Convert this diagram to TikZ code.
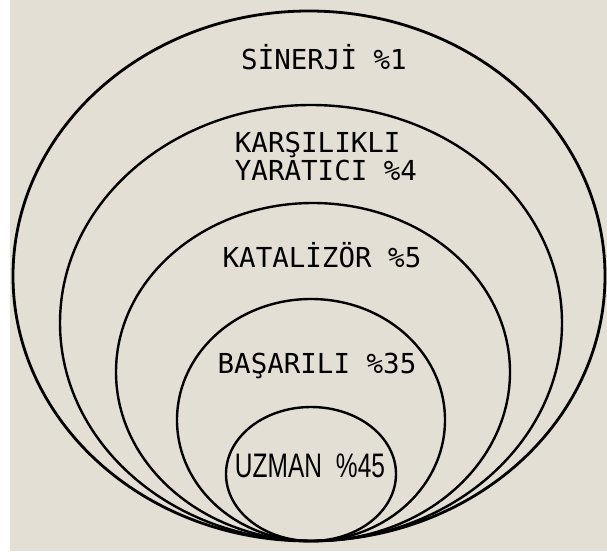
\documentclass[tikz,border=0pt]{standalone}
\usepackage{fontspec}
\newfontfamily\monofont{DejaVu Sans Mono}
\newfontfamily\narrowfont[FakeStretch=0.72]{Liberation Sans}
\definecolor{bgbeige}{RGB}{228,223,213}
\begin{document}
\begin{tikzpicture}[x=1pt,y=-1pt,
  ring/.style={draw=black,line width=2.4pt},
  outerring/.style={draw=black,line width=2.8pt},
  label/.style={font=\monofont\fontsize{27.5}{27}\selectfont,inner sep=0pt,text=black},
  ulabel/.style={font=\narrowfont\fontsize{34}{34}\selectfont,inner sep=0pt,text=black}]
\useasboundingbox (0,0) rectangle (607,554);
\fill[white] (0,0) rectangle (607,554);
\fill[bgbeige] (10,0) rectangle (607,551);
\begin{scope}
\clip (10,0) rectangle (607,551);
\draw[outerring] (309,276) ellipse [x radius=296, y radius=265];
\draw[ring] (311,323) ellipse [x radius=251, y radius=218];
\draw[ring] (313,372) ellipse [x radius=197, y radius=169];
\draw[ring] (311,420) ellipse [x radius=134, y radius=121];
\draw[ring] (311,474) ellipse [x radius=85, y radius=67];
\end{scope}
\node[label] (sin) at (324,57) {SİNERJİ\ \%1};
\node[label,align=left] (kar) at (326,156) {KARŞILIKLI\\[1pt]YARATICI\ \%4};
\node[label] (kat) at (322,255) {KATALİZÖR\ \%5};
\node[label] (bas) at (317,366) {BAŞARILI\ \%35};
\node[ulabel] (uz) at (310,466) {UZMAN\hspace{14pt}\%45};
\end{tikzpicture}
\end{document}
